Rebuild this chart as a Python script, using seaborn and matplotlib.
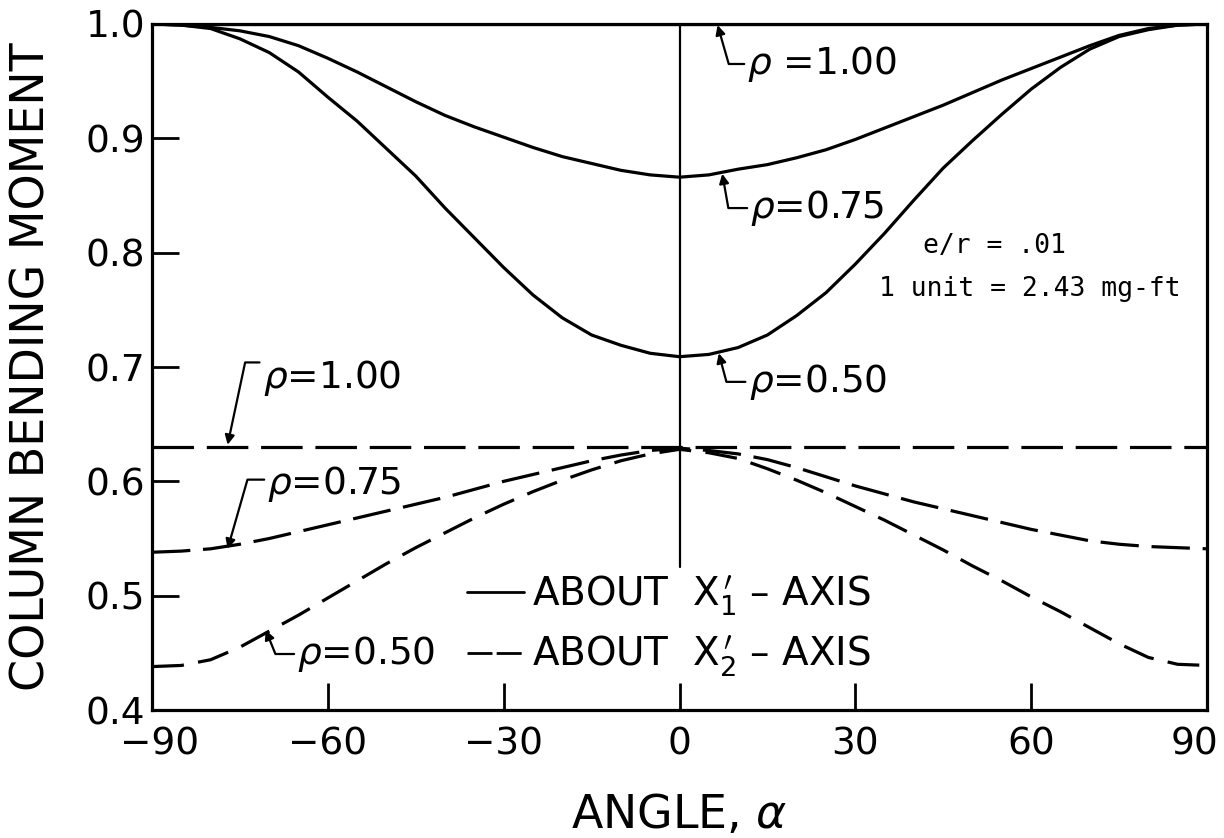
import matplotlib
matplotlib.use("Agg")
import matplotlib.pyplot as plt
import matplotlib.transforms as mtransforms
import pandas as pd
import seaborn as sns
from matplotlib.lines import Line2D

# Angle of the column, degrees
angle = [-90, -85, -80, -75, -70, -65, -60, -55, -50, -45, -40, -35, -30, -25, -20, -15, -10, -5, 0,
         5, 10, 15, 20, 25, 30, 35, 40, 45, 50, 55, 60, 65, 70, 75, 80, 85, 90]

# Bending moment about the X1' axis
m1_rho100 = [1.000, 1.000, 1.000, 1.000, 1.000, 1.000, 1.000, 1.000, 1.000, 1.000,
             1.000, 1.000, 1.000, 1.000, 1.000, 1.000, 1.000, 1.000, 1.000,
             1.000, 1.000, 1.000, 1.000, 1.000, 1.000, 1.000, 1.000, 1.000,
             1.000, 1.000, 1.000, 1.000, 1.000, 1.000, 1.000, 1.000, 1.000]
m1_rho075 = [1.000, 0.999, 0.997, 0.994, 0.989, 0.981, 0.970, 0.958, 0.945, 0.932,
             0.920, 0.910, 0.901, 0.892, 0.884, 0.878, 0.872, 0.868, 0.866,
             0.868, 0.873, 0.877, 0.883, 0.890, 0.899, 0.909, 0.919, 0.929,
             0.940, 0.951, 0.961, 0.971, 0.981, 0.990, 0.996, 0.999, 1.000]
m1_rho050 = [1.000, 0.999, 0.996, 0.987, 0.975, 0.958, 0.936, 0.915, 0.891, 0.867,
             0.839, 0.813, 0.787, 0.763, 0.743, 0.728, 0.719, 0.712, 0.709,
             0.711, 0.717, 0.728, 0.745, 0.765, 0.790, 0.817, 0.846, 0.874,
             0.898, 0.921, 0.943, 0.962, 0.978, 0.989, 0.995, 0.999, 1.000]

# Bending moment about the X2' axis
m2_rho100 = [0.630, 0.630, 0.630, 0.630, 0.630, 0.630, 0.630, 0.630, 0.630, 0.630,
             0.630, 0.630, 0.630, 0.630, 0.630, 0.630, 0.630, 0.630, 0.630,
             0.630, 0.630, 0.630, 0.630, 0.630, 0.630, 0.630, 0.630, 0.630,
             0.630, 0.630, 0.630, 0.630, 0.630, 0.630, 0.630, 0.630, 0.630]
m2_rho075 = [0.538, 0.539, 0.541, 0.545, 0.550, 0.556, 0.562, 0.568, 0.574, 0.580,
             0.586, 0.593, 0.600, 0.606, 0.612, 0.618, 0.623, 0.627, 0.629,
             0.627, 0.624, 0.619, 0.612, 0.604, 0.596, 0.589, 0.582, 0.576,
             0.570, 0.564, 0.558, 0.553, 0.548, 0.545, 0.543, 0.542, 0.541]
m2_rho050 = [0.438, 0.439, 0.444, 0.455, 0.469, 0.483, 0.498, 0.513, 0.528, 0.542,
             0.555, 0.568, 0.580, 0.591, 0.601, 0.610, 0.618, 0.624, 0.628,
             0.625, 0.620, 0.611, 0.601, 0.590, 0.578, 0.566, 0.553, 0.540,
             0.526, 0.513, 0.499, 0.486, 0.472, 0.458, 0.446, 0.440, 0.439]

series = {
    "X1 rho=1.00": m1_rho100,
    "X1 rho=0.75": m1_rho075,
    "X1 rho=0.50": m1_rho050,
    "X2 rho=1.00": m2_rho100,
    "X2 rho=0.75": m2_rho075,
    "X2 rho=0.50": m2_rho050,
}
frames = [pd.DataFrame({"angle": angle, "moment": v, "series": k})
          for k, v in series.items()]
df = pd.concat(frames, ignore_index=True)

dash_map = {
    "X1 rho=1.00": "",
    "X1 rho=0.75": "",
    "X1 rho=0.50": "",
    "X2 rho=1.00": (13, 4),
    "X2 rho=0.75": (12, 4),
    "X2 rho=0.50": (10, 4.5),
}
palette = {k: "black" for k in series}

sns.set_style("ticks")
plt.rcParams["font.family"] = ["DejaVu Sans"]
plt.rcParams["mathtext.fontset"] = "dejavusans"
plt.rcParams["text.color"] = "black"
plt.rcParams["axes.labelcolor"] = "black"
plt.rcParams["xtick.color"] = "black"
plt.rcParams["ytick.color"] = "black"

fig = plt.figure(figsize=(12.24, 8.38), dpi=100)
ax = fig.add_axes([0.1242, 0.1527, 0.8619, 0.8187])

sns.lineplot(data=df, x="angle", y="moment", hue="series", style="series",
             palette=palette, dashes=dash_map, linewidth=2.3,
             errorbar=None, legend=False, ax=ax)

# vertical reference line at zero angle
ax.axvline(0, ymin=(0.525 - 0.4) / 0.6, ymax=1.0, color="black", lw=1.6, zorder=1)

ax.set_xlim(-90, 90)
ax.set_ylim(0.4, 1.0)
ax.set_xticks([-90, -60, -30, 0, 30, 60, 90])
ax.set_yticks([0.4, 0.5, 0.6, 0.7, 0.8, 0.9, 1.0])
ax.set_yticklabels(["0.4", "0.5", "0.6", "0.7", "0.8", "0.9", "1.0"])
ax.tick_params(axis="both", direction="in", length=19.5, width=2.0,
               labelsize=27, colors="black")
ax.tick_params(axis="x", pad=12)
ax.tick_params(axis="y", pad=5)
for s in ax.spines.values():
    s.set_linewidth(2.3)
    s.set_color("black")

# pull the end labels of the angle axis inward
xlabels = ax.get_xticklabels()
xlabels[0].set_transform(xlabels[0].get_transform() +
                         mtransforms.ScaledTranslation(8 / 100, 0, fig.dpi_scale_trans))
xlabels[-1].set_transform(xlabels[-1].get_transform() +
                          mtransforms.ScaledTranslation(-12 / 100, 0, fig.dpi_scale_trans))

ax.set_xlabel(r"ANGLE, $\alpha$", fontsize=33, labelpad=22)
ax.set_ylabel("COLUMN BENDING MOMENT", fontsize=33, labelpad=22)

arrow_kw = dict(arrowstyle="-|>", color="black", lw=1.6, mutation_scale=14,
                shrinkA=0, shrinkB=0)


def label(text, tip, pos, angle_b, relpos=(0, 0.5)):
    ax.annotate(text, xy=tip, xytext=pos, fontsize=27, ha="left", va="center",
                arrowprops=dict(connectionstyle=f"angle,angleA=0,angleB={angle_b},rad=0",
                                relpos=relpos, **arrow_kw))


# solid curves
label(r"$\rho$ =1.00", (6.5, 0.999), (11.6, 0.965), 106)
label(r"$\rho$=0.75", (7.3, 0.869), (12.1, 0.839), 100)
label(r"$\rho$=0.50", (6.7, 0.712), (11.8, 0.687), 105)
# dashed curves
label(r"$\rho$=1.00", (-77.1, 0.632), (-71.1, 0.690), 78, relpos=(0, 0.9))
label(r"$\rho$=0.75", (-77.1, 0.541), (-70.3, 0.598), 74, relpos=(0, 0.6))
label(r"$\rho$=0.50", (-70.6, 0.470), (-65.2, 0.449), 112)

ax.text(41.5, 0.806, "e/r = .01", fontsize=19, family="DejaVu Sans Mono",
        ha="left", va="center")
ax.text(34.0, 0.768, "1 unit = 2.43 mg-ft", fontsize=19, family="DejaVu Sans Mono",
        ha="left", va="center")

handles = [Line2D([], [], color="black", lw=2.0),
           Line2D([], [], color="black", lw=2.0, dashes=(9, 1.5))]
ax.legend(handles, [r"ABOUT  X$_1^{\,\prime}$ – AXIS", r"ABOUT  X$_2^{\,\prime}$ – AXIS"],
          loc="center left", bbox_to_anchor=(0.299, 0.122), frameon=False,
          fontsize=28, handlelength=1.45, handletextpad=0.2, labelspacing=0.42,
          borderaxespad=0, borderpad=0)

fig.savefig("out.png", dpi=100, facecolor="white")
